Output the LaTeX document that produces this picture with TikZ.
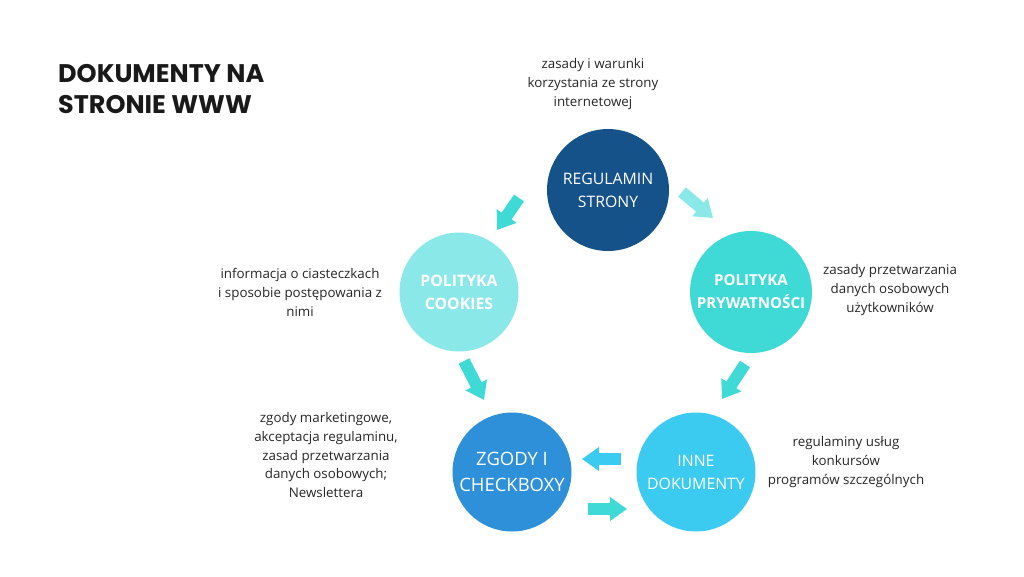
\documentclass[tikz,border=0pt]{standalone}
\usepackage{fontspec}
\setmainfont{Open Sans}
\newfontfamily\titlefont{Poppins}
\usetikzlibrary{arrows.meta,positioning}
\definecolor{cDark}{HTML}{16528A}
\definecolor{cLight}{HTML}{8AE8E8}
\definecolor{cTeal}{HTML}{3FDAD6}
\definecolor{cBlue}{HTML}{2E90D8}
\definecolor{cSky}{HTML}{3BCAF0}
\tikzset{circ/.style={circle, minimum size=24.4mm, inner sep=0pt, text=white, align=center, font=\fontsize{9}{13}\selectfont}}
\tikzset{note/.style={align=center, text=black!85, font=\fontsize{7.6}{10.8}\selectfont}}
\tikzset{blk/.style={draw, line width=2.4mm, -{Triangle[width=4.6mm,length=3.4mm]}}}
\begin{document}
\begin{tikzpicture}[x=0.02cm, y=-0.02cm]
			\useasboundingbox (0,0) rectangle (1024,576);
			\node[anchor=north west, align=left, font=\titlefont\bfseries\fontsize{14.5}{17.6}\selectfont, text=black!90] (title) at (52,58) {DOKUMENTY NA\\STRONIE WWW};
			
			\node[circ, fill=cDark] (reg) at (608,190) {REGULAMIN\\STRONY};
			\node[circ, fill=cLight, minimum size=23.8mm, font=\bfseries\fontsize{9}{13}\selectfont] (cook) at (459,292) {POLITYKA\\COOKIES};
			\node[circ, fill=cTeal, font=\bfseries\fontsize{8.6}{13}\selectfont] (pryw) at (751,292) {POLITYKA\\PRYWATNOŚCI};
			\node[circ, fill=cBlue, minimum size=23.8mm, font=\fontsize{10.5}{15}\selectfont] (zgody) at (512,472) {ZGODY I\\CHECKBOXY};
			\node[circ, fill=cSky, minimum size=23.8mm] (inne) at (696,472) {INNE\\DOKUMENTY};
			
			\node[note] (nreg) at (593,84) {zasady i warunki\\korzystania ze strony\\internetowej};
			\node[note] (ncook) at (300,292) {informacja o ciasteczkach\\i sposobie postępowania z\\nimi};
			\node[note] (npryw) at (890,290) {zasady przetwarzania\\danych osobowych\\użytkowników};
			\node[note] (nzgody) at (326,455) {zgody marketingowe,\\akceptacja regulaminu,\\zasad przetwarzania\\danych osobowych;\\Newslettera};
			\node[note] (ninne) at (846,462) {regulaminy usług\\konkursów\\programów szczególnych};
			
			% block arrows
			\coordinate (a1) at (519,198); \coordinate (b1) at (497,230);
			\coordinate (a2) at (682,192); \coordinate (b2) at (713,218);
			\coordinate (a3) at (464,361); \coordinate (b3) at (484,400);
			\coordinate (a4) at (745,364); \coordinate (b4) at (722,399);
			\coordinate (a5) at (621,459); \coordinate (b5) at (582,459);
			\coordinate (a6) at (588,509); \coordinate (b6) at (627,509);
			\draw[blk, cTeal] (a1) -- (b1);
			\draw[blk, cLight] (a2) -- (b2);
			\draw[blk, cTeal] (a3) -- (b3);
			\draw[blk, cTeal] (a4) -- (b4);
			\draw[blk, cSky] (a5) -- (b5);
			\draw[blk, cTeal] (a6) -- (b6);
		\end{tikzpicture}
\end{document}
